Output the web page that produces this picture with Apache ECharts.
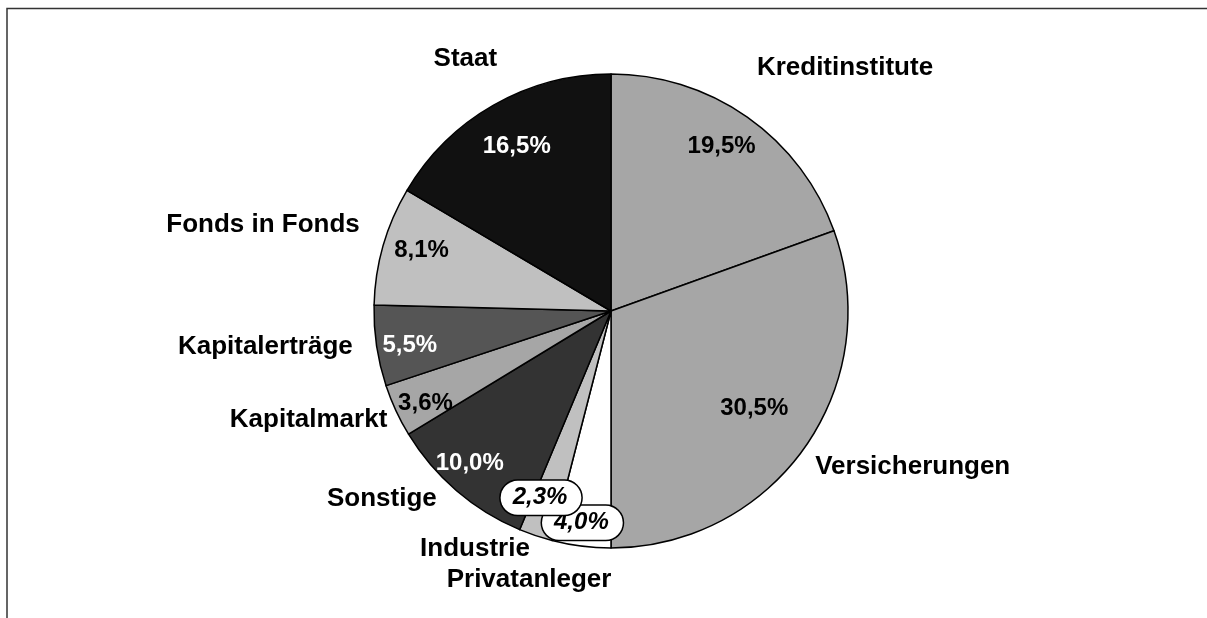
<!DOCTYPE html>
<html>
<head>
<meta charset="utf-8">
<script src="https://cdn.jsdelivr.net/npm/echarts@6/dist/echarts.min.js"></script>
<style>
  html, body { margin: 0; padding: 0; background: #fff; }
  #chart { width: 1207px; height: 618px; }
</style>
</head>
<body>
<div id="chart"></div>
<script>
// slices clockwise from 12 o'clock
var names = ['Kreditinstitute', 'Versicherungen', 'Privatanleger', 'Industrie', 'Sonstige',
             'Kapitalmarkt', 'Kapitalerträge', 'Fonds in Fonds', 'Staat'];
var shares = [19.5, 30.5, 4.0, 2.3, 10.0, 3.6, 5.5, 8.1, 16.5];

var fills = ['#a6a6a6', '#a6a6a6', '#ffffff', '#c0c0c0', '#333333', '#a6a6a6', '#555555', '#c0c0c0', '#111111'];
var pctColors = ['#000', '#000', '#000', '#000', '#fff', '#000', '#fff', '#000', '#fff'];
// slices whose percent sits in an oval
var oval = [false, false, true, true, false, false, false, false, false];
// label nudges (dx, dy) so the labels sit where the original put them
var nameNudge = [[-4, -37], [-7, 11], [37, 19], [4, -1], [-5, -3], [10, 3], [-4, -1], [-4, -17], [16, -33]];
var pctNudge = [[-7, 3], [-24, -20], [-3, 9], [-5, -7], [-8, -3], [0, 6], [1, 4], [7, -4], [7, 13]];

var dom = document.getElementById('chart');
var myChart = echarts.init(dom);

var R = 237;
var center = [611, 311];
var font = '"Liberation Sans", Arial, sans-serif';

var sliceData = names.map(function (n, i) {
  return { name: n, value: shares[i], itemStyle: { color: fills[i] } };
});

var pctData = names.map(function (n, i) {
  var lab = { color: pctColors[i] };
  if (oval[i]) {
    lab.backgroundColor = '#fff';
    lab.borderColor = '#000';
    lab.borderWidth = 1.5;
    lab.borderRadius = [40, 40, 40, 40];
    lab.padding = [6, 14, 4, 12];
    lab.fontStyle = 'italic';
  }
  return { name: n, value: shares[i], label: lab };
});

var option = {
  animation: false,
  backgroundColor: '#fff',
  graphic: [{
    type: 'polyline',
    shape: { points: [[7, 618], [7, 8.5], [1207, 8.5]] },
    style: { stroke: '#333', lineWidth: 1.5, fill: null },
    silent: true
  }],
  series: [
    {
      name: 'slices',
      type: 'pie',
      center: center,
      radius: R,
      startAngle: 90,
      clockwise: true,
      avoidLabelOverlap: false,
      silent: true,
      itemStyle: { borderColor: '#000', borderWidth: 1.5 },
      label: {
        show: true,
        position: 'outside',
        formatter: '{b}',
        color: '#000',
        fontFamily: font,
        fontWeight: 'bold',
        fontSize: 26,
        distanceToLabelLine: 5
      },
      labelLine: { show: false, length: 15, length2: 0 },
      labelLayout: function (params) {
        var nd = nameNudge[params.dataIndex];
        return { dx: nd[0], dy: nd[1] };
      },
      data: sliceData
    },
    {
      name: 'percent',
      type: 'pie',
      center: center,
      radius: [R * 0.7, R],
      startAngle: 90,
      clockwise: true,
      avoidLabelOverlap: false,
      silent: true,
      itemStyle: { color: 'rgba(0,0,0,0)', borderWidth: 0 },
      label: {
        show: true,
        position: 'inside',
        fontFamily: font,
        fontWeight: 'bold',
        fontSize: 24,
        formatter: function (p) {
          return p.value.toFixed(1).replace('.', ',') + '%';
        }
      },
      labelLine: { show: false },
      labelLayout: function (params) {
        var nd = pctNudge[params.dataIndex];
        return { dx: nd[0], dy: nd[1], hideOverlap: false };
      },
      data: pctData
    }
  ]
};

if (option && typeof option === 'object') {
  myChart.setOption(option, true);
}
</script>
</body>
</html>
